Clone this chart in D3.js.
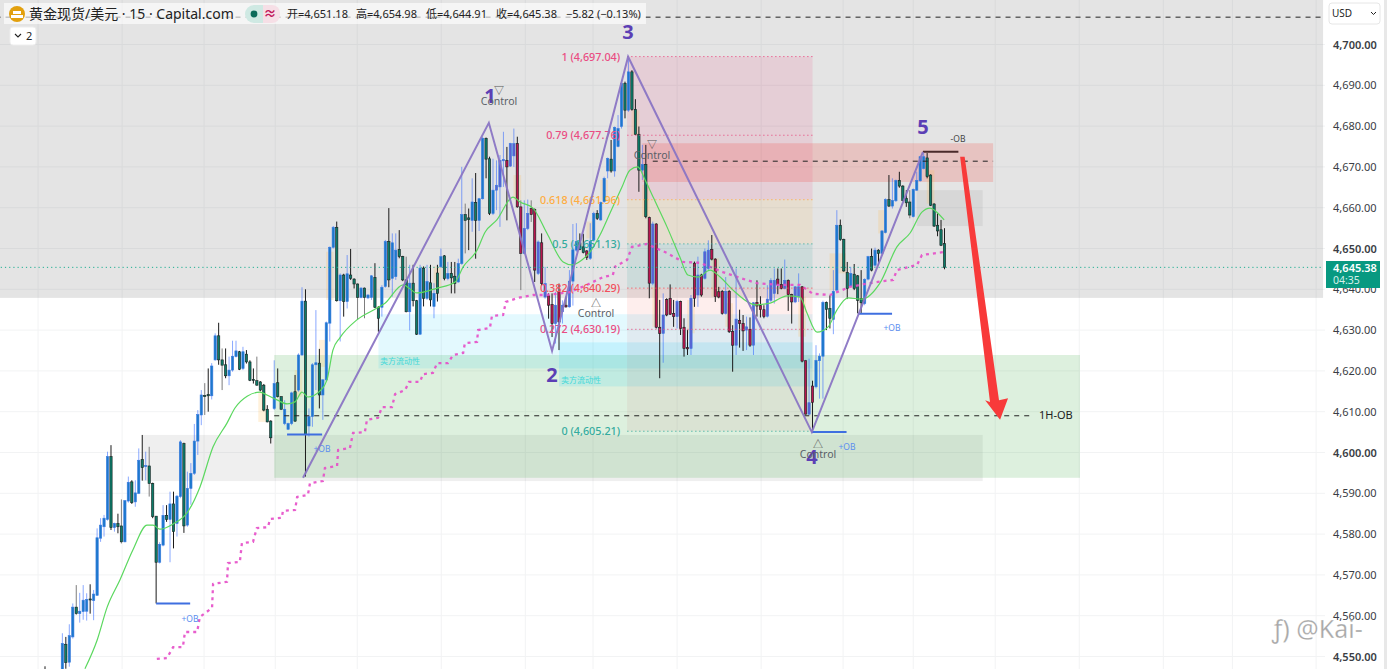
<!DOCTYPE html>
<html><head><meta charset="utf-8">
<script src="https://cdn.jsdelivr.net/npm/d3@7/dist/d3.min.js"></script>
<style>
html,body{margin:0;padding:0;background:#fff;overflow:hidden}
svg{display:block}
text{font-family:"Noto Sans","Noto Sans CJK SC",sans-serif}
</style></head><body><div id="chart"></div>
<script>
const opens=[4545,4542,4543,4544,4543,4546,4553,4548.6,4554.8,4562.1,
4560.5,4561,4561.1,4564.1,4563.7,4565,4579,4581.8,4583.6,4599,
4581.6,4582.6,4582,4578.1,4588.1,4592.8,4587.9,4590,4598.3,4596.6,
4596.7,4592.4,4584.4,4573.1,4577.3,4584.6,4583.6,4587.4,4582.6,4589.2,
4602.2,4582.2,4591.2,4594.9,4602.8,4609.2,4614,4614.2,4613.9,4622.7,
4628.6,4622.7,4621.5,4618.8,4620.2,4623.5,4624.7,4620.6,4624.1,4622.2,
4617.9,4617.6,4617.3,4616.5,4610.6,4607.7,4610.8,4617.1,4613.7,4607.1,
4605.7,4607.1,4614.9,4615.3,4623.9,4637.1,4606.5,4608.8,4621.5,4621.9,
4614.1,4617.8,4631.7,4650.3,4655.2,4637.2,4643.5,4637,4643.5,4642.5,
4641.3,4638,4640.3,4637.9,4638,4642.9,4635.6,4635.6,4640.7,4651.7,
4642.7,4643.1,4649.8,4648,4642.3,4634.5,4641.5,4637.2,4629,4645.2,
4637.8,4641.6,4635.8,4644,4645.5,4648.2,4642.6,4643.9,4643.2,4641.8,
4646.3,4658.3,4657.5,4656.9,4661.3,4656.9,4662.2,4677,4672,4658.6,
4664.3,4665.1,4671.5,4671.6,4670.2,4672.7,4675.7,4660.2,4648.8,4654.9,
4659.8,4659.6,4643.9,4651.4,4638.1,4638.4,4636.3,4631.6,4639.4,4634.5,
4636.1,4635.7,4642,4649.6,4651.4,4650.4,4649.4,4647.6,4652.1,4658.6,
4657,4661.5,4669,4671.9,4669,4675,4679.9,4690.5,4683.9,4693.3,
4684.1,4678,4669.2,4670.6,4657.6,4641.5,4656,4630.7,4629.2,4637.5,
4637.8,4634.1,4633.3,4637,4630.7,4625.7,4625.5,4646.4,4638.6,4643.5,
4642.7,4645.1,4649.8,4647.4,4639.4,4639.5,4634.1,4639.5,4629.7,4626.3,
4632.4,4631.6,4630,4630.2,4626.3,4636.8,4636,4635,4633.4,4637.3,
4639,4642.5,4641.2,4640.2,4642.2,4638.7,4636.9,4638.2,4640.6,4622.5,
4609.4,4616.3,4616.1,4622.5,4623.6,4636.8,4635.3,4632.6,4639.8,4655.7,
4652.2,4644.1,4640.8,4643.7,4643.3,4637.7,4636.5,4642.5,4648,4645.9,
4649.6,4648.8,4653.9,4662,4660.4,4661.7,4666.7,4665.3,4662.3,4661.4,
4657.8,4664.3,4666.6,4669.6,4672.2,4668,4660.9,4655.7,4654.6,4651.18];
const highs=[4547.6,4544,4545,4546,4546,4555.7,4554.8,4557.9,4563,4567.5,
4565.6,4567.5,4565.5,4567.7,4566.3,4581.4,4583.9,4584.7,4600.2,4601.8,
4582.8,4585,4588.5,4588.3,4594.1,4593.2,4593.2,4601,4604.3,4600.2,
4601.4,4592.6,4584.4,4578,4587.1,4587.1,4590.4,4590.4,4589.6,4603,
4602.4,4595.3,4597.4,4607,4610.4,4615.3,4617,4620.6,4621.9,4629.2,
4631.8,4625.5,4625.5,4623.5,4627.4,4627.4,4624.9,4625.9,4625.1,4622.6,
4620.6,4623.5,4617.5,4616.8,4611.6,4607.9,4622.6,4620.6,4613.8,4612.8,
4607.3,4614.9,4619,4624.3,4640.5,4640,4610.8,4621.9,4634.9,4625.4,
4618,4632.1,4650.5,4655.5,4656.6,4643.9,4643.8,4648.4,4649.9,4642.7,
4641.5,4640.5,4640.5,4638.8,4643.5,4646.4,4635.9,4641,4652.1,4659.9,
4653.7,4653.7,4654.5,4648.2,4648,4646,4646,4637.4,4646,4645.6,
4646,4646,4641.5,4646,4650,4648.4,4646.7,4646.7,4646.7,4647.5,
4670,4661,4659.8,4667.2,4668.5,4662.4,4677.4,4677.2,4672.5,4672,
4671.6,4672.9,4678.6,4674.9,4675.9,4679.4,4677.4,4661.8,4661.8,4662,
4661.8,4659.8,4652,4653.7,4645.5,4639,4639,4639.4,4641.4,4637.3,
4638.2,4644.7,4656,4656.2,4653.7,4653.6,4649.6,4656.2,4659,4659.4,
4661.5,4667.6,4672.3,4676.6,4679.9,4682.7,4691.3,4690.9,4696.6,4693.7,
4686.6,4679.9,4675.4,4675.4,4657.8,4656.6,4656.2,4637.4,4639,4637.8,
4641.2,4637.4,4637.4,4637.2,4632.9,4630,4638.6,4646.8,4648,4643.8,
4650,4652,4653.3,4647.6,4640.6,4639.8,4643,4639.8,4631.2,4645.1,
4635,4633.7,4633.3,4633.1,4636.9,4642.2,4638.3,4636.1,4641,4642.7,
4645.1,4645.1,4645.1,4647.3,4642.4,4638.9,4640.8,4643.9,4640.8,4622.7,
4623,4617.6,4626.3,4624.3,4637.2,4637,4638.5,4644.7,4659.4,4657.1,
4652.4,4646.7,4645.5,4646.2,4643.5,4644.7,4642.7,4648.2,4650,4650.2,
4649.8,4654.5,4662.3,4668,4667.2,4666.9,4668.8,4665.5,4664.3,4664.3,
4664.7,4668.8,4672.7,4673.4,4673.4,4668.2,4661.1,4658.6,4657,4654.98];
const lows=[4542,4540,4541,4542,4541,4544,4547,4547.5,4554.4,4560.2,
4558.3,4559,4558.8,4560.5,4558.9,4564.9,4578.1,4579.4,4583.3,4581,
4580.6,4580.2,4577.7,4578,4587.7,4587.4,4586.7,4589.8,4593.1,4593.2,
4589.2,4583.9,4563,4572.8,4577,4583,4573.1,4576.5,4579.4,4588.8,
4580.3,4581.8,4587.2,4594.5,4599.4,4606.7,4609.2,4610,4613,4622.5,
4621.5,4615.3,4618.2,4616.5,4619.8,4623.3,4620.2,4620.2,4621.8,4617.5,
4616.9,4616.3,4615,4610.1,4607.4,4602.2,4610.4,4613.5,4610.4,4606.7,
4605.5,4606.7,4607.5,4614.9,4623.7,4594.1,4603.9,4606.3,4615.3,4610.8,
4608,4617.4,4627.2,4650,4637,4627.2,4633.3,4635.3,4642.3,4640.2,
4632.5,4637.8,4632.9,4637.6,4637.4,4635.4,4629.6,4633.3,4640.4,4640.5,
4638.2,4642.3,4647.6,4642,4634.3,4629.9,4635.8,4628.8,4628.8,4635.8,
4637.4,4635.8,4632.9,4637,4645.3,4642.2,4642.2,4639,4639,4641.6,
4646,4648.8,4649.6,4654.1,4647.5,4654.3,4662,4667.2,4658.2,4658.2,
4659.4,4655.3,4665.1,4656.9,4670,4670,4660,4639.8,4648.6,4654.5,
4656.5,4641.8,4643.5,4641,4637.7,4632.8,4628.3,4626.7,4625.1,4631.6,
4635.5,4635.5,4636,4649.2,4649.6,4648.8,4647.2,4647.2,4651.7,4657,
4656.8,4661.2,4667.2,4668.6,4667.6,4674.8,4679.4,4681.9,4683.5,4683.8,
4677.8,4663.9,4666.8,4657.4,4637.8,4641,4630.4,4618.2,4622,4633.4,
4633.7,4630.8,4630.4,4628.8,4623.5,4623.9,4623.9,4635.7,4635.7,4638.2,
4642.4,4644.7,4647.1,4636.9,4637.8,4633.8,4633.8,4629.3,4619.8,4623.9,
4625.7,4624.9,4625.1,4625.9,4623.9,4633.3,4633.1,4632.9,4633.1,4636.9,
4636.5,4638.8,4640,4640,4634.7,4631.6,4636.6,4636.9,4622.1,4609.2,
4609.1,4605.5,4615.7,4613.2,4613.2,4630,4630.4,4629,4639.4,4651.9,
4644.3,4637.6,4640.6,4639.8,4634.1,4634.1,4636.1,4642.2,4644.4,4645.5,
4645.9,4648.6,4653.7,4660.2,4659.8,4661.4,4664.9,4661.6,4660.2,4657.4,
4657.6,4664.1,4666.4,4669.4,4667.2,4660.4,4655.3,4653,4650.6,4644.91];
const closes=[4544,4543,4544,4543,4545,4553.2,4548.5,4555.1,4562.1,4560.5,
4561.1,4563.8,4564,4563.9,4565.3,4579.1,4582.2,4583.9,4599,4581.6,
4582.6,4581.8,4578.1,4588.2,4592.7,4587.7,4590.1,4598.1,4596.3,4596.8,
4592.4,4584.3,4573.1,4577.5,4584.6,4583.6,4587.4,4580.6,4589.3,4602.6,
4582,4591.2,4594.9,4602.8,4609.3,4614.1,4613.7,4613.9,4621.2,4628.6,
4622.7,4621.4,4618.8,4620.2,4623.6,4624.9,4620.4,4624.7,4622.2,4617.7,
4617.7,4616.5,4615.3,4610.4,4607.5,4603.6,4616.9,4613.7,4610.6,4610.6,
4607.1,4614.6,4607.7,4623.9,4637.1,4604.5,4608.8,4621.5,4622,4614.1,
4617.8,4631.8,4650.3,4655.2,4637.2,4643.5,4637,4643.8,4642.7,4641.3,
4638,4640.3,4638,4638.6,4643.3,4635.6,4632.9,4640.5,4651.7,4642.3,
4651.4,4649.6,4648,4642.3,4634.5,4641.5,4637.2,4629,4645.2,4637.8,
4641.9,4637.4,4639,4639,4648,4642.6,4643.9,4642.8,4641.4,4646.3,
4658.3,4656.9,4657.1,4661.4,4656.9,4662.2,4677,4671.9,4658.6,4664.3,
4665.5,4671.6,4671.8,4670,4675.7,4675.7,4660.2,4648.8,4654.9,4658.6,
4658.3,4644.7,4651.6,4641.4,4641.4,4636.1,4631.6,4636.1,4632,4636.1,
4635.7,4642,4649.7,4651.7,4649.8,4649,4647.8,4651.7,4658.6,4657.4,
4661.3,4667.2,4672.1,4669,4679.7,4679.4,4690.5,4683.9,4693.3,4684.1,
4678,4669.2,4670.6,4657.8,4641.5,4656,4630.7,4629.2,4633.7,4633.7,
4633.9,4633.3,4637,4630.4,4625.5,4625.4,4637.8,4637.8,4643.5,4638.6,
4649.2,4649.6,4647.4,4638.2,4638.1,4634.1,4639.5,4629.6,4626.3,4632.7,
4631.6,4629.8,4630.8,4626.3,4636.7,4635.9,4635,4633.3,4637.6,4642.2,
4642.2,4641.2,4640.2,4642.2,4638.7,4636.9,4640.6,4640.6,4622.4,4609.4,
4612.2,4612.3,4622.6,4623.6,4636.8,4635.1,4632.9,4639.5,4655.7,4652.2,
4644.5,4640.2,4643.9,4640.2,4637.3,4636.7,4642.4,4648,4644.7,4649.6,
4648.8,4654.3,4662,4660.4,4661.8,4666.7,4665.3,4661.8,4661.2,4658.2,
4664.5,4666.7,4672.5,4672.5,4667.6,4660.6,4655.5,4654.3,4650.8,4645.38];
const magentaRanges=[[130,151],[156,156],[174,221]];
const grayWicks=[9,22,30,46,51,61,68,90,92,104,121,137,140,172,219,249];
const greenIdx=[11.5,15,17.9,21.6,25.3,29.4,31.1,33.1,36.9,40.9,44.6,48.4,52.4,54.7,58.2,61.9,63.9,66.8,69.7,72,74,75.7,79.2,81.2,82.9,84.9,89.8,95.6,97.9,103.1,107.1,112.9,118.1,120.4,124.4,126.7,130.1,134.8,136.8,140.5,144.5,149.2,151.7,154.6,156.9,159.8,162.7,166.1,168.4,170.7,172.8,175.1,179.1,182.8,185.1,188,191.5,194.4,198.1,203,204.4,208.8,213.7,217.4,219.4,222.3,225.5,228,231.2,235.2,240.4,245.3,249.1,252.5,254.8,256.8,258.9];
const greenVal=[4547,4554,4562.1,4568.8,4576.1,4582.2,4582.2,4581.2,4582.5,4585.2,4591.5,4601.4,4607.2,4610.9,4613.8,4614.8,4614.1,4612.9,4611.9,4612.4,4614.8,4613.6,4615.1,4617.8,4625.1,4628.1,4632.5,4635.4,4636.6,4641.1,4639.1,4640.3,4641.8,4645.5,4649.6,4654,4657,4662.6,4661.4,4659.9,4653.8,4646.7,4646,4647.2,4649.1,4653.3,4658.7,4665,4669.2,4670,4666.8,4662.6,4655.3,4647.9,4643.5,4643,4644.7,4643,4639.8,4636.6,4636.2,4636.6,4638.4,4638.1,4634.2,4629.5,4630.8,4634.9,4637.9,4637.6,4641.5,4650.4,4653.8,4658.9,4659.9,4658.9,4657];
const pinkIdx=[32.2,35.1,36.9,39.7,40.3,43.8,44.6,48.1,48.4,52.4,52.7,56.1,56.7,59.9,61,64.2,64.8,68.2,68.5,72,72.6,75.7,76.3,80,80.6,84.1,84.4,87.8,88.7,92.1,92.7,95.9,97,99.9,100.8,103.7,104.8,108,108.8,111.7,112.9,116,117.5,120.4,120.9,124.4,124.7,128.1,128.7,131.9,132.7,136.2,140.5,144.5,151.2,156.1,160.7,163.5,164.1,167.6,169,173.3,179.1,183.7,188.6,195.2,200.1,205,210.8,217.4,221.1,226,231.8,237.5,241.3,244.2,245.3,251.1,252.5,258.6];
const pinkVal=[4549.4,4549.6,4552.3,4552.3,4556,4556,4559.7,4561.9,4567.8,4568.3,4572.9,4573.2,4577.8,4578.1,4581.5,4581.7,4583.7,4584,4585.7,4585.9,4589.1,4589.6,4592.5,4593,4596.2,4596.7,4600.6,4601.1,4604.8,4605,4608,4608.5,4611.1,4611.1,4614.3,4615.3,4617.3,4617.3,4619.2,4619.5,4621.9,4621.9,4623.9,4624.4,4626.8,4627.1,4630,4630.5,4633.5,4633.7,4636.9,4637.9,4638.6,4638.6,4639.3,4641.1,4643,4643.5,4645.5,4647.2,4650.4,4651.1,4648.9,4646.7,4646.5,4644.2,4642.8,4641.5,4641.1,4641.1,4638.9,4638.6,4640.6,4641.5,4642,4642.3,4644.7,4646,4648.4,4649.1];
const waveIdx=[74.3,127.8,146,167.9,220.8,252.8];
const wavePrice=[4593.8,4680.8,4624.9,4697,4605,4673.7];
const waveLabels=["","1","2","3","4","5"];
const fibLevels=[1,0.79,0.618,0.5,0.382,0.272,0];
const fibPrices=[4697.04,4677.76,4661.96,4651.13,4640.29,4630.19,4605.21];
const tanIdx=[62.5,73,80,82,113,136,157,161,170,173,176,186,193,197,218,227,229.5,241,255];
const tanTop=[4614.9,4620.2,4627.6,4649.2,4645.6,4668,4656.6,4666.8,4683.9,4665.6,4640.6,4637.4,4647.6,4636.6,4638.2,4648.8,4648.8,4659.4,4669.2];
const tanBot=[4607.5,4613.7,4621,4637.4,4640.6,4661.9,4652.5,4661.9,4677.8,4657.8,4630.8,4629.2,4638.2,4630.8,4628.4,4639.8,4643.9,4653.7,4661];
const gridIdx=[-2,22.2,45.8,66.3,89.9,114.1,138.3,157.8,182,206.2,229.8,250,273.6,297.8,322,341.9,366];
const priceTicks=[4700,4690,4680,4670,4660,4650,4640,4630,4620,4610,4600,4590,4580,4570,4560,4550];
const boldTicks=[4700,4650,4600,4550];
const arrowIdx=[263.5,264.8,274.7,277.3,275,270.7,272.1];
const arrowPrice=[4672.5,4672.5,4612.8,4613.3,4608,4612.8,4612.4];
const headerTexts=["开=4,651.18","高=4,654.98","低=4,644.91","收=4,645.38","−5.82 (−0.13%)"];

const W=1387,H=669,chartRight=1325;
const x=d3.scaleLinear().domain([0,259]).range([45,944.5]);
const y=d3.scaleLinear().domain([4550,4700]).range([656.5,44.5]);
const svg=d3.select("#chart").append("svg").attr("width",W).attr("height",H);
svg.append("rect").attr("width",W).attr("height",H).attr("fill","#fff");
svg.append("clipPath").attr("id","c").append("rect").attr("width",chartRight).attr("height",H);
const g=svg.append("g").attr("clip-path","url(#c)");
const band=(x0,x1,p0,p1,fill)=>g.append("rect").attr("x",x(x0)).attr("width",x(x1)-x(x0)).attr("y",y(p0)).attr("height",y(p1)-y(p0)).attr("fill",fill);

// grid
g.selectAll(".gy").data(priceTicks).join("line").attr("x1",0).attr("x2",chartRight).attr("y1",d=>y(d)).attr("y2",d=>y(d)).attr("stroke","#f2f3f4");
g.selectAll(".gx").data(gridIdx).join("line").attr("x1",d=>x(d)).attr("x2",d=>x(d)).attr("y1",0).attr("y2",H).attr("stroke","#f2f3f4");

// zones
band(-20,368,4712,4637.9,"rgba(128,128,128,0.21)");
band(28,270,4604.3,4593,"rgba(128,128,128,0.13)");
band(66,298,4623.9,4593.8,"rgba(76,175,80,0.19)");
band(96,221,4633.9,4620.6,"rgba(0,200,245,0.11)");
band(148,221,4627,4616.2,"rgba(0,200,245,0.13)");
const fibColors=["#ea4c82","#ea4c82","#ffac40","#35ab9e","#f2505c","#ea4c82","#35ab9e"];
const fibFills=["rgba(233,30,99,0.11)","rgba(233,30,99,0.11)","rgba(255,152,0,0.09)","rgba(0,150,136,0.1)","rgba(244,67,54,0.09)","rgba(190,80,90,0.08)"];
fibFills.forEach((f,i)=>band(167.6,221,fibPrices[i],fibPrices[i+1],f));
band(172,273,4675.8,4666.3,"rgba(244,67,54,0.2)");
band(251,270,4664.3,4655.5,"rgba(128,128,128,0.13)");

// tan highlights
g.selectAll(".tan").data(tanIdx).join("rect").attr("x",d=>x(d)-3.8).attr("width",7.6)
 .attr("y",(d,i)=>y(tanTop[i])).attr("height",(d,i)=>y(tanBot[i])-y(tanTop[i])).attr("fill","rgba(255,183,77,0.2)");

// candles
const inMag=i=>magentaRanges.some(r=>i>=r[0]&&i<=r[1]);
const idx=d3.range(opens.length);
const cg=g.append("g");
cg.selectAll(".w").data(idx).join("line").attr("x1",x).attr("x2",x)
 .attr("y1",i=>y(highs[i])).attr("y2",i=>y(lows[i])).attr("stroke-width",1)
 .attr("stroke",i=>closes[i]>=opens[i]?"rgba(41,98,255,0.55)":(grayWicks.includes(i)?"#7d7d7d":"#1a1a1a"));
cg.selectAll(".b").data(idx).join("rect").attr("x",i=>x(i)-1.15).attr("width",2.3)
 .attr("y",i=>y(Math.max(opens[i],closes[i])))
 .attr("height",i=>Math.max(1,Math.abs(y(opens[i])-y(closes[i]))))
 .attr("fill",i=>closes[i]>=opens[i]?(inMag(i)?"#5a62d2":"#1c79cc"):(inMag(i)?"#b8154f":"#0d7a68"))
 .attr("stroke",i=>closes[i]>=opens[i]?"#3a7ae0":"#17211f").attr("stroke-width",0.6);

// MA lines
const line=d3.line().x(d=>x(d[0])).y(d=>y(d[1]));
g.append("path").attr("d",d3.line().x(d=>x(d[0])).y(d=>y(d[1])).curve(d3.curveMonotoneX)(greenIdx.map((d,i)=>[d,greenVal[i]])))
 .attr("fill","none").attr("stroke","#5bd85f").attr("stroke-width",1.2);
g.append("path").attr("d",line(pinkIdx.map((d,i)=>[d,pinkVal[i]])))
 .attr("fill","none").attr("stroke","#e64cc8").attr("stroke-width",2.3).attr("stroke-dasharray","3 4").attr("opacity",0.9);

// fib lines/labels
fibPrices.forEach((p,i)=>{
 g.append("line").attr("x1",x(167.6)).attr("x2",x(221)).attr("y1",y(p)).attr("y2",y(p)).attr("stroke",fibColors[i]).attr("stroke-dasharray","1.5 2.5").attr("opacity",0.75);
 g.append("text").attr("x",x(165.6)).attr("y",y(p)+4).attr("text-anchor","end").attr("font-size",10.8).attr("font-weight",500).attr("fill",fibColors[i])
  .text(fibLevels[i]+" ("+d3.format(",.2f")(p)+")");
});

// dashed levels
const lev=(i0,i1,p,col,dash)=>g.append("line").attr("x1",x(i0)).attr("x2",x(i1)).attr("y1",y(p)).attr("y2",y(p)).attr("stroke",col).attr("stroke-dasharray",dash).attr("stroke-width",1);
lev(-20,368,4706.7,"#222","5 5");
lev(175,273,4671.4,"#222","5 5");
lev(66,284,4609,"#222","5 5");
lev(-20,368,4645.38,"#1fae92","1.2 3");

// OB lines
const ob=(i0,i1,p,c,w)=>g.append("line").attr("x1",x(i0)).attr("x2",x(i1)).attr("y1",y(p)).attr("y2",y(p)).attr("stroke",c).attr("stroke-width",w);
ob(32,41.8,4563,"#3f6fe0",2);ob(69.7,79.8,4604.4,"#3f6fe0",2);ob(220.8,230.8,4605,"#3f6fe0",2);ob(234.1,243.9,4634,"#3f6fe0",2);ob(252.8,263,4673.7,"#4a2a2a",2);
const txt=(xx,yy,s,size,col,anchor,extra)=>{const t=g.append("text").attr("x",xx).attr("y",yy).attr("font-size",size).attr("fill",col).attr("text-anchor",anchor||"middle").text(s);if(extra)extra(t);return t;};
txt(190,622,"+OB",8.5,"#5b8def");txt(322,452,"+OB",8.5,"#5b8def");txt(847,450,"+OB",8.5,"#5b8def");txt(892,331,"+OB",8.5,"#5b8def");txt(958,142,"-OB",8.5,"#444");

// wave
g.append("path").attr("d",line(waveIdx.map((d,i)=>[d,wavePrice[i]])))
 .attr("fill","none").attr("stroke","#8a75c4").attr("stroke-width",2).attr("opacity",0.95);
const lx=[0,490,552,628,812,923],ly=[0,103,382,39,464,134];
waveLabels.forEach((s,i)=>{if(s)txt(lx[i],ly[i],s,20,"#5c3fb5","middle",t=>t.attr("font-weight",700).attr("font-family","'Liberation Sans Narrow','Liberation Sans',sans-serif"));});

// control
[[499,105,"▽"],[596,317,"△"],[652,159,"▽"],[818,458,"△"]].forEach(c=>{
 txt(c[0],c[1],"Control",10.5,"#5a5f66");
 txt(c[0],c[2]=="▽"?c[1]-11:c[1]-10,c[2],10,"#555");
});
txt(380,364,"卖方流动性",8,"#42d8d8","start");txt(561,383,"卖方流动性",8,"#42d8d8","start");
txt(1039,419,"1H-OB",11,"#222","start");

// arrow
g.append("polygon").attr("points",arrowIdx.map((d,i)=>x(d)+","+y(arrowPrice[i])).join(" ")).attr("fill","#f83a3a");

// header
svg.append("rect").attr("x",4).attr("y",3).attr("width",642).attr("height",21).attr("fill","rgba(255,255,255,0.62)");
svg.append("rect").attr("x",245).attr("y",5).attr("width",18).attr("height",18).attr("rx",9).attr("fill","#cfe9e3");
svg.append("rect").attr("x",254).attr("y",5).attr("width",9).attr("height",18).attr("fill","#cfe9e3");
svg.append("rect").attr("x",263).attr("y",5).attr("width",17).attr("height",18).attr("rx",8).attr("fill","#f6dfe6");
svg.append("rect").attr("x",263).attr("y",5).attr("width",8).attr("height",18).attr("fill","#f6dfe6");
svg.append("circle").attr("cx",254).attr("cy",14).attr("r",3.4).attr("fill","#0b6b5a");
svg.append("text").attr("x",270).attr("y",18).attr("text-anchor","middle").attr("font-size",13).attr("font-weight",700).attr("fill","#c2185b").text("≈");
svg.append("circle").attr("cx",17).attr("cy",14).attr("r",8).attr("fill","#e2a00e");
svg.append("rect").attr("x",13).attr("y",11).attr("width",8).attr("height",3).attr("fill","#fff");
svg.append("rect").attr("x",11).attr("y",15).attr("width",12).attr("height",3).attr("fill","#fff");
svg.append("text").attr("x",29).attr("y",19).attr("font-size",14).attr("fill","#222").text("黄金现货/美元 · 15 · Capital.com");
const hx=[287,356,426,496,566];
headerTexts.forEach((s,i)=>svg.append("text").attr("x",hx[i]).attr("y",18).attr("font-size",11).attr("fill","#222").text(s));
svg.append("rect").attr("x",10).attr("y",27).attr("width",26).attr("height",18).attr("rx",3).attr("fill","#fff").attr("stroke","#eee");
svg.append("path").attr("d","M15 34 l3 3 l3 -3").attr("fill","none").attr("stroke","#222").attr("stroke-width",1.1);
svg.append("text").attr("x",26).attr("y",40).attr("font-size",11).attr("fill","#222").text("2");

// axis
const axis=d3.axisRight(y).tickValues(priceTicks).tickSize(0).tickPadding(8).tickFormat(d3.format(",.2f"));
const ag=svg.append("g").attr("transform","translate(1325,0)").call(axis);
ag.select(".domain").remove();
ag.selectAll("text").attr("font-size",11).attr("fill",d=>"#3a3d44").attr("font-weight",d=>boldTicks.includes(d)?600:400).attr("font-family","'Noto Sans',sans-serif");

svg.append("rect").attr("x",1329).attr("y",3).attr("width",51).attr("height",21).attr("rx",3).attr("fill","#fff").attr("stroke","#e6e6e6");
svg.append("text").attr("x",1332).attr("y",17).attr("font-size",10).attr("fill","#222").text("USD");
svg.append("path").attr("d","M1371 12 l2.5 2.5 l2.5 -2.5").attr("fill","none").attr("stroke","#222");
svg.append("rect").attr("x",1326).attr("y",261).attr("width",54).attr("height",27).attr("fill","#089981");
svg.append("text").attr("x",1333).attr("y",272).attr("font-size",11).attr("font-weight",600).attr("fill","#fff").text("4,645.38");
svg.append("text").attr("x",1333).attr("y",284).attr("font-size",10.5).attr("fill","#d4f0ea").text("04:35");
svg.append("rect").attr("x",1384).attr("y",0).attr("width",3).attr("height",H).attr("fill","#e8e8e8");

// watermark
svg.append("text").attr("x",1272).attr("y",638).attr("font-size",25).attr("fill","rgba(110,110,110,0.6)").attr("stroke","rgba(255,255,255,0.5)").attr("stroke-width",0.5).text("ƒ) @Kai-");
</script></body></html>
